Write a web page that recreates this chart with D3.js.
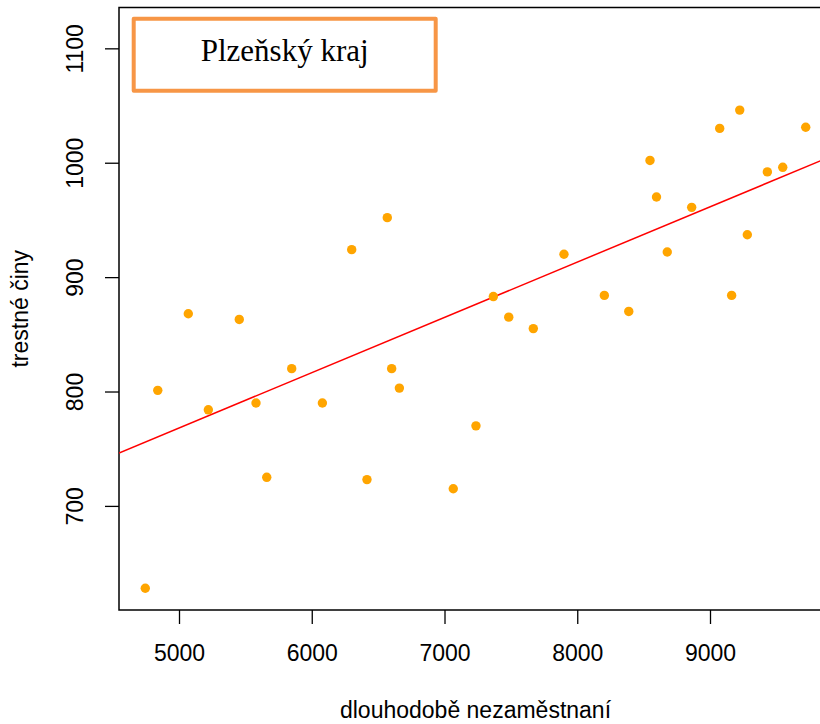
<!DOCTYPE html>
<html>
<head>
<meta charset="utf-8">
<script src="https://cdn.jsdelivr.net/npm/d3@7"></script>
<style>
  body { margin: 0; background: #fff; }
  svg { display: block; }
</style>
</head>
<body>
<div id="chart"></div>
<script>
// long-term unemployed vs. crimes, Plzen region
const unemployed = [4746, 4840, 5070, 5221, 5454, 5580, 5661, 5849, 6080, 6301,
  6416, 6569, 6602, 6660, 7066, 7237, 7368, 7484, 7669, 7900,
  8204, 8388, 8548, 8597, 8678, 8862, 9073, 9163, 9224, 9281,
  9432, 9548, 9721];
const crimes = [628, 801, 868, 784, 863, 790, 725, 820, 790, 924,
  723, 952, 820, 803, 715, 770, 883, 865, 855, 920,
  884, 870, 1002, 970, 922, 961, 1030, 884, 1046, 937,
  992, 996, 1031];
const xTicks = [5000, 6000, 7000, 8000, 9000];
const yTicks = [700, 800, 900, 1000, 1100];
// fitted line as it is drawn in the original (intercept, slope)
const fitIntercept = 526.4;
const fitSlope = 0.04834;
const regionName = "Plzeňský kraj";
const xTitle = "dlouhodobě nezaměstnaní";
const yTitle = "trestné činy";

class ScatterPlot {
  constructor(_config) {
    this.config = {
      parentElement: _config.parentElement,
      width: _config.width || 820,
      height: _config.height || 724,
      // plot region in px; the right edge runs past the window like in the original
      left: 119, right: 832, top: 7.5, bottom: 610,
    };
    this.data = unemployed.map((x, i) => ({ x: x, y: crimes[i] }));
    this.initVis();
  }

  initVis() {
    let vis = this;
    const c = vis.config;

    vis.svg = d3.select(c.parentElement).append("svg")
      .attr("width", c.width)
      .attr("height", c.height);

    vis.xScale = d3.scaleLinear().domain([4548, 9919]).range([c.left, c.right]);
    vis.yScale = d3.scaleLinear().domain([609, 1135.7]).range([c.bottom, c.top]);

    vis.svg.append("clipPath").attr("id", "plot-clip")
      .append("rect")
      .attr("x", c.left).attr("y", c.top)
      .attr("width", c.right - c.left).attr("height", c.bottom - c.top);

    // x axis
    const xAxis = d3.axisBottom(vis.xScale).tickValues(xTicks)
      .tickFormat(d3.format("d")).tickSize(14).tickPadding(21);
    const gx = vis.svg.append("g")
      .attr("transform", `translate(0,${c.bottom})`)
      .call(xAxis);
    gx.select(".domain").remove();

    // y axis
    const yAxis = d3.axisLeft(vis.yScale).tickValues(yTicks)
      .tickFormat(d3.format("d")).tickSize(14);
    const gy = vis.svg.append("g")
      .attr("transform", `translate(${c.left},0)`)
      .call(yAxis);
    gy.select(".domain").remove();
    gy.selectAll(".tick text")
      .attr("x", null).attr("dy", null)
      .attr("text-anchor", "middle")
      .attr("transform", "translate(-36,0) rotate(-90)");

    vis.svg.selectAll(".tick line").attr("stroke", "#000").attr("stroke-width", 1.3);
    vis.svg.selectAll(".tick text")
      .attr("fill", "#000")
      .style("font-family", "'Liberation Sans', Arial, sans-serif")
      .style("font-size", "23px");

    // box round the plot
    vis.svg.append("rect")
      .attr("x", c.left).attr("y", c.top)
      .attr("width", c.right - c.left).attr("height", c.bottom - c.top)
      .attr("fill", "none").attr("stroke", "#000").attr("stroke-width", 1.5);

    // axis titles
    vis.svg.append("text")
      .attr("x", (c.left + c.right) / 2).attr("y", 718)
      .attr("text-anchor", "middle")
      .style("font-family", "'Liberation Sans', Arial, sans-serif")
      .style("font-size", "23px")
      .text(xTitle);

    vis.svg.append("text")
      .attr("transform", `translate(28,${(c.top + c.bottom) / 2}) rotate(-90)`)
      .attr("text-anchor", "middle")
      .style("font-family", "'Liberation Sans', Arial, sans-serif")
      .style("font-size", "23px")
      .text(yTitle);

    // straight line across the whole plot region, like abline()
    const [x0, x1] = vis.xScale.domain();
    vis.svg.append("line")
      .attr("clip-path", "url(#plot-clip)")
      .attr("x1", vis.xScale(x0)).attr("y1", vis.yScale(fitIntercept + fitSlope * x0))
      .attr("x2", vis.xScale(x1)).attr("y2", vis.yScale(fitIntercept + fitSlope * x1))
      .attr("stroke", "#ff0000").attr("stroke-width", 1.5);

    // the points
    vis.svg.append("g")
      .attr("clip-path", "url(#plot-clip)")
      .selectAll("circle")
      .data(vis.data)
      .join("circle")
      .attr("cx", d => vis.xScale(d.x))
      .attr("cy", d => vis.yScale(d.y))
      .attr("r", 4.7)
      .attr("fill", "#ffa500");

    // legend box with the region name
    vis.svg.append("rect")
      .attr("x", 133.7).attr("y", 18.7)
      .attr("width", 302).attr("height", 72)
      .attr("fill", "#fff")
      .attr("stroke", "#f79646").attr("stroke-width", 4)
      .attr("stroke-linejoin", "round");

    vis.svg.append("text")
      .attr("x", 284.7).attr("y", 61)
      .attr("text-anchor", "middle")
      .style("font-family", "'Liberation Serif', 'Times New Roman', serif")
      .style("font-size", "31px")
      .text(regionName);
  }
}

const plot = new ScatterPlot({ parentElement: "#chart" });
</script>
</body>
</html>
